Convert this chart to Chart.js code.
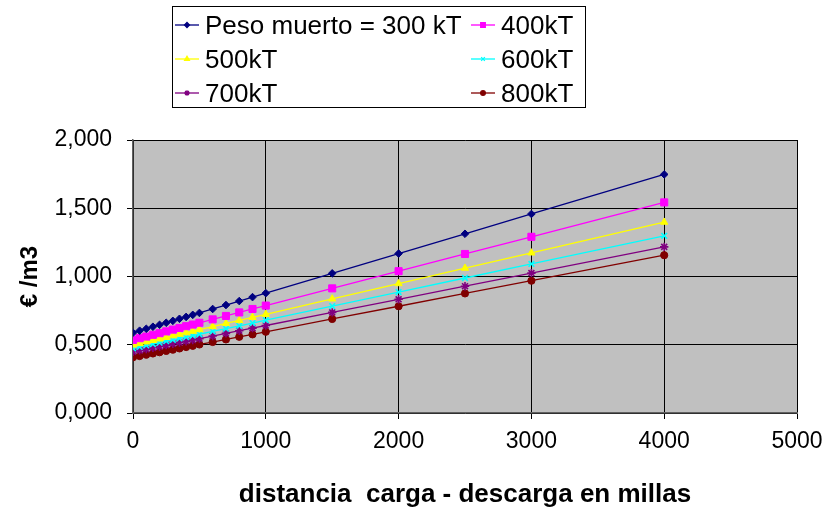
<!DOCTYPE html>
<html>
<head>
<meta charset="utf-8">
<script src="https://cdn.jsdelivr.net/npm/chart.js@4.4.0/dist/chart.umd.min.js"></script>
<style>
  html, body { margin: 0; padding: 0; background: #fff; }
  #wrap { width: 830px; height: 510px; }
</style>
</head>
<body>
<div id="wrap"><canvas id="grafico" width="830" height="510"></canvas></div>
<script>
// ======================================
// Datos
// ======================================
const distancias = [0, 50, 100, 150, 200, 250, 300, 350, 400, 450, 500, 600, 700, 800, 900, 1000, 1500, 2000, 2500, 3000, 4000];

const peso300 = [0.588, 0.603, 0.617, 0.632, 0.646, 0.661, 0.675, 0.690, 0.704, 0.719, 0.733, 0.762, 0.791, 0.820, 0.849, 0.878, 1.023, 1.168, 1.313, 1.458, 1.748];
const peso400 = [0.535, 0.548, 0.560, 0.573, 0.585, 0.598, 0.611, 0.623, 0.636, 0.648, 0.661, 0.686, 0.711, 0.737, 0.762, 0.787, 0.913, 1.039, 1.165, 1.291, 1.543];
const peso500 = [0.498, 0.509, 0.521, 0.532, 0.543, 0.554, 0.566, 0.577, 0.588, 0.599, 0.611, 0.633, 0.656, 0.678, 0.701, 0.723, 0.836, 0.948, 1.061, 1.173, 1.398];
const peso600 = [0.474, 0.484, 0.495, 0.505, 0.515, 0.526, 0.536, 0.546, 0.556, 0.567, 0.577, 0.598, 0.618, 0.639, 0.659, 0.680, 0.783, 0.886, 0.989, 1.092, 1.298];
const peso700 = [0.449, 0.459, 0.468, 0.478, 0.487, 0.497, 0.507, 0.516, 0.526, 0.535, 0.545, 0.564, 0.583, 0.603, 0.622, 0.641, 0.737, 0.833, 0.929, 1.025, 1.217];
const peso800 = [0.408, 0.417, 0.427, 0.436, 0.445, 0.455, 0.464, 0.473, 0.483, 0.492, 0.502, 0.520, 0.539, 0.558, 0.576, 0.595, 0.689, 0.782, 0.876, 0.969, 1.156];

const nombres = ['Peso muerto = 300 kT', '400kT', '500kT', '600kT', '700kT', '800kT'];
const xTicks = [0, 1000, 2000, 3000, 4000, 5000];
const yTicks = [0, 0.5, 1, 1.5, 2];

// ======================================
// Estilo de series
// ======================================
const colores = ['#000080', '#ff00ff', '#ffff00', '#00ffff', '#800080', '#800000'];
const marcas = ['rectRot', 'rect', 'triangle', 'crossRot', 'star', 'circle'];
const radios = [3.8, 5, 4.2, 4, 4.2, 3.6];
const valores = [peso300, peso400, peso500, peso600, peso700, peso800];

const datasets = valores.map((serie, i) => ({
    label: nombres[i],
    data: distancias.map((d, j) => ({ x: d, y: serie[j] })),
    borderColor: colores[i],
    backgroundColor: colores[i],
    borderWidth: 1.3,
    pointStyle: marcas[i],
    pointRadius: radios[i],
    pointBorderWidth: (marcas[i] === 'crossRot' || marcas[i] === 'star') ? 1.6 : 1,
    pointBorderColor: colores[i],
    pointBackgroundColor: colores[i],
    tension: 0,
    fill: false
}));

// fondo gris del área de trazado
const fondoGris = {
    id: 'fondoGris',
    beforeDraw(chart) {
        const { ctx, chartArea: a } = chart;
        ctx.save();
        ctx.fillStyle = '#c0c0c0';
        ctx.fillRect(a.left, a.top, a.right - a.left, a.bottom - a.top);
        ctx.restore();
    }
};

// leyenda en dos columnas con recuadro
const leyenda = {
    id: 'leyenda',
    afterDraw(chart) {
        const ctx = chart.ctx;
        ctx.save();
        ctx.fillStyle = '#fff';
        ctx.fillRect(172, 6, 413, 101);
        ctx.strokeStyle = '#000';
        ctx.lineWidth = 1;
        ctx.strokeRect(172.5, 6.5, 413, 101);
        const filas = [25, 59, 93];
        const cols = [175, 471];
        ctx.font = '26px "Liberation Sans", Arial, sans-serif';
        ctx.textBaseline = 'middle';
        chart.data.datasets.forEach((ds, i) => {
            const x = cols[i % 2];
            const y = filas[Math.floor(i / 2)];
            ctx.strokeStyle = ds.borderColor;
            ctx.lineWidth = 1.3;
            ctx.beginPath();
            ctx.moveTo(x, y);
            ctx.lineTo(x + 24, y);
            ctx.stroke();
            if (Chart.helpers && Chart.helpers.drawPoint) {
                ctx.fillStyle = ds.pointBackgroundColor;
                Chart.helpers.drawPoint(ctx, {
                    pointStyle: ds.pointStyle,
                    radius: ds.pointRadius * 0.65,
                    borderWidth: ds.pointBorderWidth,
                    rotation: 0
                }, x + 12, y);
            }
            ctx.fillStyle = '#000';
            ctx.fillText(ds.label, x + 30, y + 2);
        });
        ctx.restore();
    }
};

const ctx = document.getElementById('grafico').getContext('2d');
const chart = new Chart(ctx, {
    type: 'line',
    data: { datasets: datasets },
    options: {
        responsive: false,
        animation: false,
        devicePixelRatio: 1,
        layout: { padding: { top: 140, right: 33, left: 0, bottom: 0 } },
        plugins: {
            legend: { display: false },
            tooltip: { enabled: false }
        },
        scales: {
            x: {
                type: 'linear',
                min: 0,
                max: 5000,
                afterBuildTicks: (s) => { s.ticks = xTicks.map(v => ({ value: v })); },
                afterFit: (s) => { s.height = 97; s.paddingRight = 0; s.paddingLeft = 0; },
                ticks: {
                    color: '#000',
                    padding: 9,
                    maxRotation: 0,
                    font: { family: '"Liberation Sans", Arial', size: 23 },
                    callback: (v) => String(v)
                },
                grid: { color: '#000', lineWidth: 1, tickLength: 6, tickColor: '#000' },
                border: { color: '#606060', width: 1.5 },
                title: {
                    display: true,
                    text: 'distancia  carga - descarga en millas',
                    color: '#000',
                    font: { family: '"Liberation Sans", Arial', size: 26, weight: 'bold' },
                    padding: { top: 0, bottom: 0 }
                }
            },
            y: {
                min: 0,
                max: 2,
                afterBuildTicks: (s) => { s.ticks = yTicks.map(v => ({ value: v })); },
                afterFit: (s) => { s.width = 133; },
                ticks: {
                    color: '#000',
                    padding: 15,
                    font: { family: '"Liberation Sans", Arial', size: 23 },
                    callback: (v) => v.toFixed(3).replace('.', ',')
                },
                grid: { color: '#000', lineWidth: 1, tickLength: 6, tickColor: '#000' },
                border: { color: '#606060', width: 1.5 },
                title: {
                    display: true,
                    text: '€ /m3',
                    color: '#000',
                    font: { family: '"Liberation Sans", Arial', size: 24, weight: 'bold' },
                    padding: { top: 16, bottom: 0 }
                }
            }
        }
    },
    plugins: [fondoGris, leyenda]
});
</script>
</body>
</html>
